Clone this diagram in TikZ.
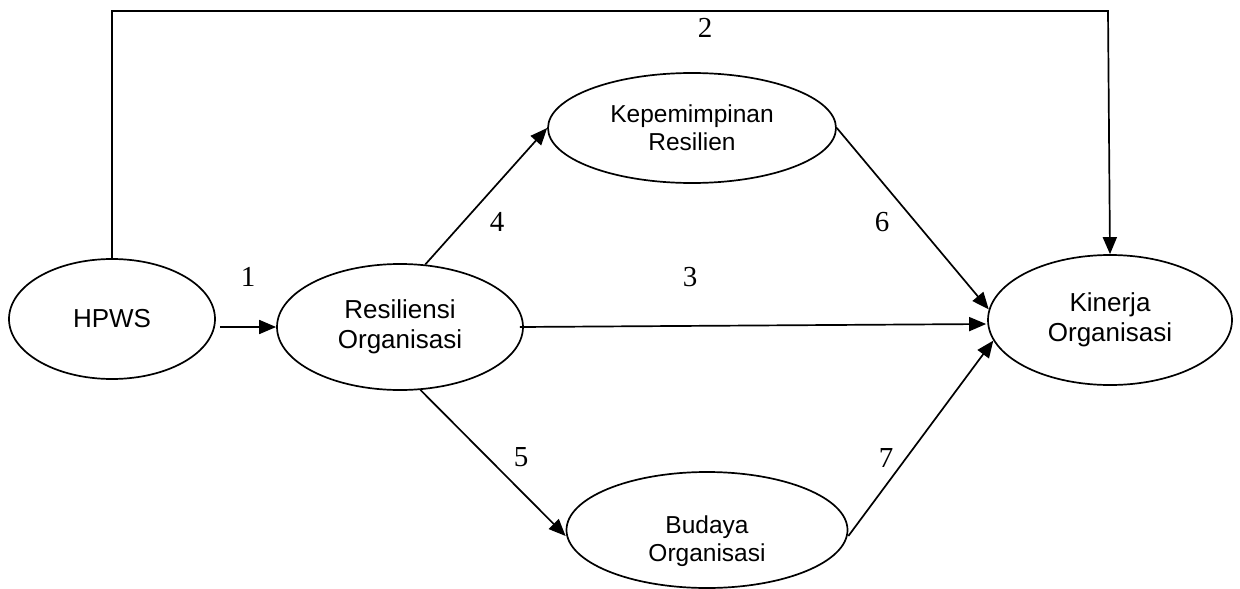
\documentclass[tikz,border=0pt]{standalone}
\usepackage{fontspec}
\setmainfont{Liberation Serif}
\newfontfamily\labelsans{Liberation Sans}
\usetikzlibrary{shapes.geometric,arrows.meta,calc}
\begin{document}
\begin{tikzpicture}[x=1pt,y=-1pt,
  construct/.style={draw, ellipse, line width=1.7pt, inner sep=0pt, align=center,
    font=\labelsans\fontsize{26}{30}\selectfont},
  smallfont/.style={font=\labelsans\fontsize{24.5}{28}\selectfont},
  smallconstruct/.style={construct, smallfont},
  caption/.style={smallfont, align=center, inner sep=0pt},
  link/.style={line width=1.7pt, -{Triangle[length=17pt,width=14pt]}},
  pathno/.style={font=\fontsize{29}{32}\selectfont, inner sep=0pt}]
\useasboundingbox (0,0) rectangle (1240,589);

% constructs
\node[construct, minimum width=206pt, minimum height=120pt] (hpws) at (112,319) {HPWS};
\node[construct, minimum width=246pt, minimum height=126pt] (res) at (400,327) {Resiliensi\\Organisasi};
\node[smallconstruct, minimum width=288pt, minimum height=110pt] (kep) at (692,128) {Kepemimpinan\\Resilien};
\node[smallconstruct, minimum width=281pt, minimum height=116pt] (bud) at (707,530) {};
\node[caption] (budtext) at (707,541) {Budaya\\Organisasi};
\node[construct, minimum width=244pt, minimum height=130pt] (kin) at (1110,320) {Kinerja\\Organisasi};

% direct path over the top
\coordinate (topright) at (1108,11);
\draw[link] (hpws.north) -- (hpws.north |- topright) -- (topright) -- (kin.north);

% paths between constructs
\draw[link] ($(hpws.east |- res.west)+(4,0)$) -- (res.west);
\draw[link] ($(res.east)+(-4,0)$) -- ($(kin.west)+(-1,4)$);
\draw[link] (res.68) -- (kep.west);
\draw[link] (res.-72) -- ($(bud.west)+(0,6)$);
\draw[link] (kep.east) -- (kin.175);
\draw[link] ($(bud.east)+(0,6)$) -- (kin.190);

% path numbers
\node[pathno] (n1) at (248,277) {1};
\node[pathno] (n2) at (705,28) {2};
\node[pathno] (n3) at (690,277) {3};
\node[pathno] (n4) at (497,222) {4};
\node[pathno] (n5) at (521,457) {5};
\node[pathno] (n6) at (882,222) {6};
\node[pathno] (n7) at (886,458) {7};
\end{tikzpicture}
\end{document}
